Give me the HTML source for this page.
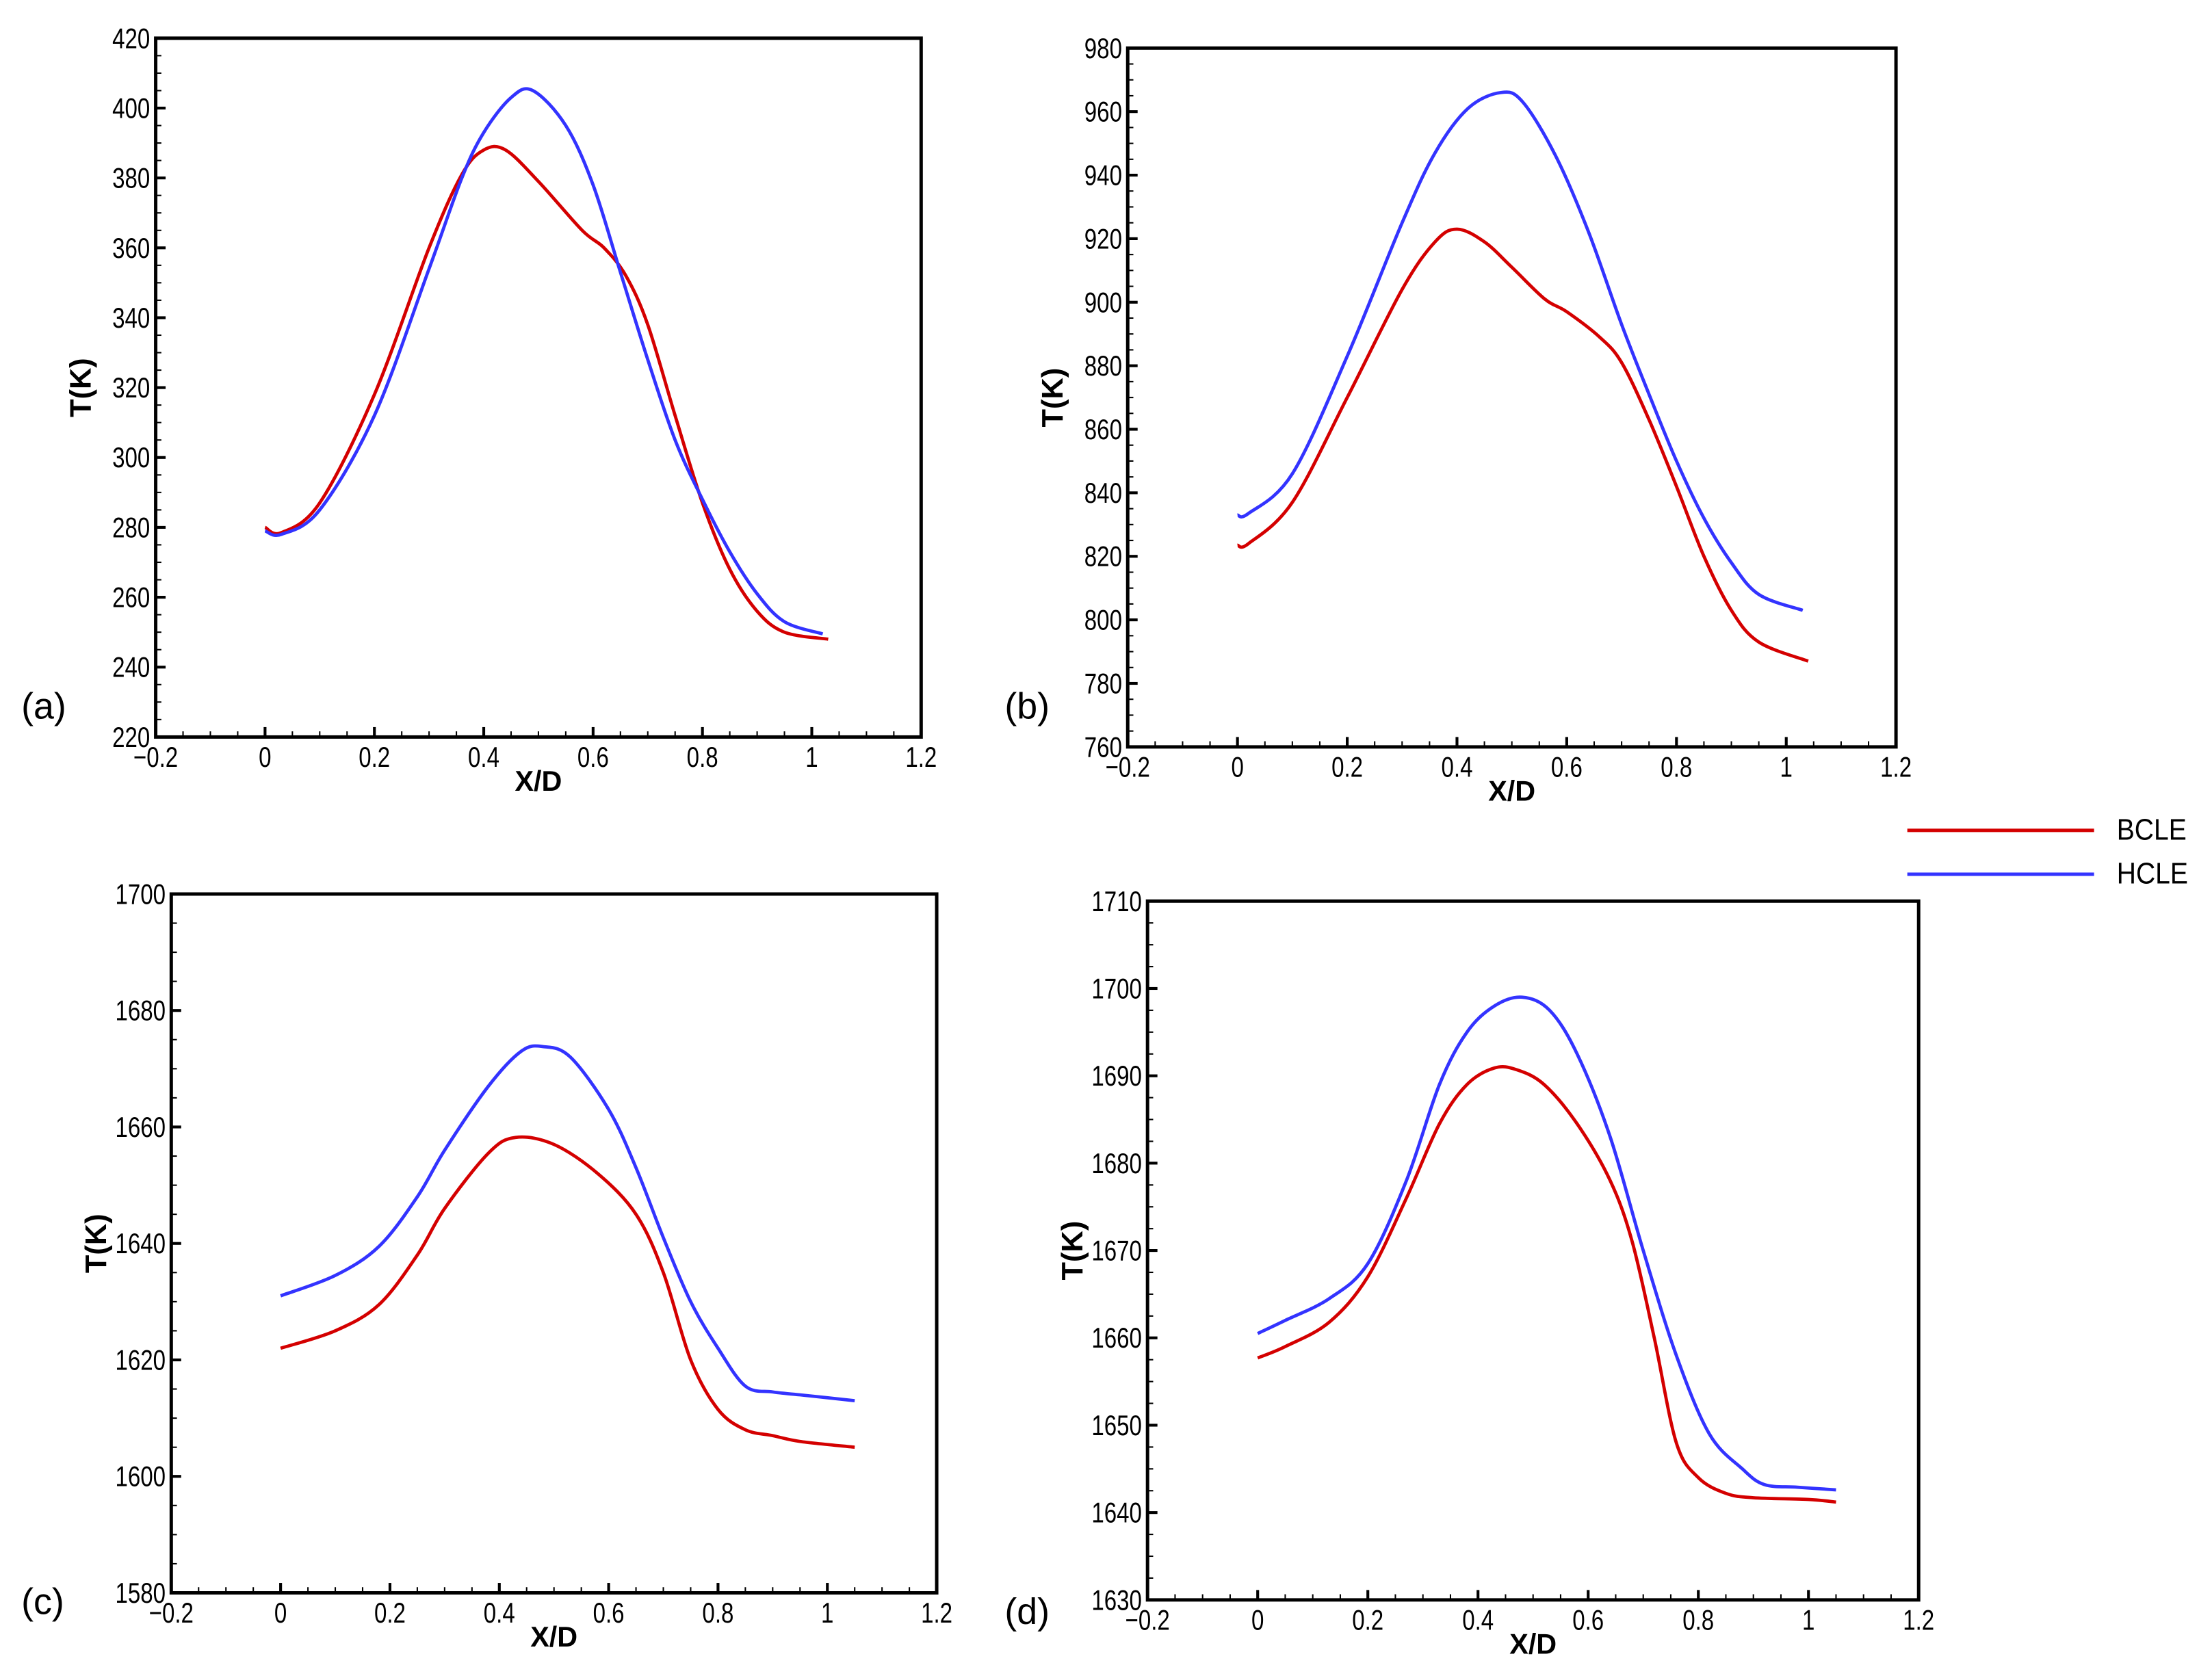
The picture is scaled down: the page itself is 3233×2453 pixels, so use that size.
<!DOCTYPE html>
<html><head><meta charset="utf-8"><style>
html,body{margin:0;padding:0;background:#fff;}
svg{display:block;}
text{font-family:"Liberation Sans",sans-serif;fill:#000;}
</style></head><body>
<svg id="fig" width="3233" height="2453" viewBox="0 0 1563.3 1186.2" xmlns="http://www.w3.org/2000/svg">
<g>
<line x1="1348" y1="587" x2="1480" y2="587" stroke="#d40000" stroke-width="2.4"/>
<text x="1496" y="588" font-size="21" dominant-baseline="middle" transform="translate(1496,0) scale(0.9,1) translate(-1496,0)">BCLE</text>
<line x1="1348" y1="618" x2="1480" y2="618" stroke="#3333ff" stroke-width="2.4"/>
<text x="1496" y="619" font-size="21" dominant-baseline="middle" transform="translate(1496,0) scale(0.9,1) translate(-1496,0)">HCLE</text>
</g>
</svg>
<script>
const xTicks = [-0.2,0,0.2,0.4,0.6,0.8,1,1.2];
const xTickLabels = ["\u22120.2","0","0.2","0.4","0.6","0.8","1","1.2"];
const aX = [0,0.03,0.1,0.2,0.3,0.36,0.4,0.44,0.5,0.58,0.62,0.66,0.7,0.75,0.8,0.85,0.9,0.95,1.03];
const aB = [280,278.5,287,318,360,381,388,388,379,365,360,352,338,312,287,268,256,250,248];
const aHX = [0,0.03,0.1,0.2,0.3,0.36,0.4,0.45,0.49,0.55,0.6,0.65,0.7,0.75,0.8,0.85,0.9,0.95,1.02];
const aH = [279,278,285,312,354,380,393,403,405,395,378,353,328,305,288,273,261,253,249.5];
const aYTicks = [220,240,260,280,300,320,340,360,380,400,420];
const bX = [0,0.02,0.1,0.2,0.3,0.36,0.4,0.45,0.5,0.56,0.6,0.66,0.7,0.75,0.8,0.85,0.9,0.95,1.04];
const bB = [823.5,824,837,870,904,919,923,919,911,901,897,889,881,863,842,820,803,793,787];
const bHX = [0,0.02,0.1,0.2,0.3,0.36,0.42,0.48,0.52,0.58,0.64,0.7,0.75,0.8,0.85,0.9,0.95,1.03];
const bH = [833,833.5,846,883,925,947,961,966,963,946,922,893,871,850,832,818,808,803];
const bYTicks = [760,780,800,820,840,860,880,900,920,940,960,980];
const cX = [0,0.1,0.18,0.25,0.3,0.38,0.43,0.5,0.58,0.65,0.7,0.75,0.8,0.85,0.9,0.95,1.05];
const cB = [1622,1625,1629.5,1638,1646,1655.5,1658.2,1657,1652,1645,1635,1620,1611.5,1608,1607,1606,1605];
const cHX = [0,0.1,0.18,0.25,0.3,0.38,0.44,0.48,0.53,0.6,0.65,0.7,0.75,0.8,0.85,0.9,0.95,1.05];
const cH = [1631,1634.5,1639.5,1648,1656,1667,1673,1673.8,1672,1663,1653,1641,1630,1622,1615.5,1614.5,1614,1613];
const cYTicks = [1580,1600,1620,1640,1660,1680,1700];
const dX = [0,0.05,0.13,0.2,0.27,0.33,0.38,0.43,0.47,0.52,0.58,0.64,0.68,0.72,0.76,0.8,0.85,0.9,1.0,1.05];
const dB = [1657.7,1659,1661.8,1667,1676,1684.5,1689,1690.9,1690.7,1689,1684.5,1678,1671,1660,1648,1644,1642.2,1641.7,1641.5,1641.2];
const dHX = [0,0.05,0.13,0.2,0.27,0.33,0.38,0.43,0.48,0.53,0.58,0.64,0.7,0.76,0.82,0.88,0.92,0.98,1.05];
const dH = [1660.5,1662,1664.5,1668.5,1678,1689,1695,1698,1699,1697.5,1692.5,1683,1670,1658,1649,1645,1643.2,1642.9,1642.6];
const dYTicks = [1630,1640,1650,1660,1670,1680,1690,1700,1710];

const NS="http://www.w3.org/2000/svg";
const svg=document.getElementById('fig');
function mk(tag,attrs,parent){const e=document.createElementNS(NS,tag);for(const k in attrs)e.setAttribute(k,attrs[k]);(parent||svg).appendChild(e);return e;}
function smooth(pts){let d="M"+pts[0][0]+","+pts[0][1];for(let i=0;i<pts.length-1;i++){const p0=pts[Math.max(0,i-1)],p1=pts[i],p2=pts[i+1],p3=pts[Math.min(pts.length-1,i+2)];const c1=[p1[0]+(p2[0]-p0[0])/6,p1[1]+(p2[1]-p0[1])/6],c2=[p2[0]-(p3[0]-p1[0])/6,p2[1]-(p3[1]-p1[1])/6];d+=` C${c1[0]},${c1[1]} ${c2[0]},${c2[1]} ${p2[0]},${p2[1]}`;}return d;}

function panel(id,L,R,T,B,yTicks,minorPer,bx,by,hx,hy,letter,lx,ly){
  const g=mk('g',{});
  
  
  const y0=yTicks[0],y1=yTicks[yTicks.length-1];
  const sx=v=>L+(v-(-0.2))/1.4*(R-L);
  const sy=v=>B-(v-y0)/(y1-y0)*(B-T);
  const step=yTicks[1]-yTicks[0];
  for(let v=y0;v<=y1+1e-9;v+=step/(minorPer+1)){
    const major=yTicks.some(t=>Math.abs(t-v)<1e-6);
    const tk=mk('line',{x1:L,x2:L+(major?7:4),y1:sy(v),y2:sy(v),stroke:'#000','stroke-width':major?2:1},g);
    
    
  }
  yTicks.forEach(v=>{const t=mk('text',{x:L-4,y:sy(v)+7,'font-size':20,'text-anchor':'end',transform:`translate(${L-4},0) scale(0.8,1) translate(${-(L-4)},0)`},g);t.textContent=v;
    
    });
  for(let i=0;i<=28;i++){const v=-0.2+i*0.05;const major=i%4===0;
    const tk=mk('line',{x1:sx(v),x2:sx(v),y1:B,y2:B-(major?7:4),stroke:'#000','stroke-width':major?2:1},g);
    
    }
  xTicks.forEach((v,i)=>{const t=mk('text',{x:sx(v),y:B+21,'font-size':20,'text-anchor':'middle',transform:`translate(${sx(v)},0) scale(0.8,1) translate(${-sx(v)},0)`},g);t.textContent=xTickLabels[i];
    
    });
  const fr=mk('rect',{x:L,y:T,width:R-L,height:B-T,fill:'none',stroke:'#000','stroke-width':2.4},g);
  
  
  const lb=mk('path',{d:smooth(bx.map((v,i)=>[sx(v),sy(by[i])])),fill:'none',stroke:'#d40000','stroke-width':2.3},g);
  
  
  const lh=mk('path',{d:smooth(hx.map((v,i)=>[sx(v),sy(hy[i])])),fill:'none',stroke:'#3333ff','stroke-width':2.3},g);
  
  
  const xt=mk('text',{x:(L+R)/2,y:B+38,'font-size':20,'font-weight':'bold','text-anchor':'middle'},g);xt.textContent='X/D';
  
  
  const yx=L-46,yy=(T+B)/2;
  const yt=mk('text',{x:yx,y:yy,'font-size':21,'font-weight':'bold','text-anchor':'middle',transform:`rotate(-90 ${yx} ${yy})`},g);yt.textContent='T(K)';
  
  
  const pl=mk('text',{x:lx,y:ly,'font-size':26},g);pl.textContent=letter;
  
  
}
panel('a',110,651,27,521,aYTicks,3,aX,aB,aHX,aH,'(a)',15,508);
panel('b',797,1340,34,528,bYTicks,3,bX,bB,bHX,bH,'(b)',710,508);
panel('c',121,662,632,1126,cYTicks,3,cX,cB,cHX,cH,'(c)',15,1141);
panel('d',811,1356,637,1131,dYTicks,3,dX,dB,dHX,dH,'(d)',710,1148);
</script>
</body></html>
